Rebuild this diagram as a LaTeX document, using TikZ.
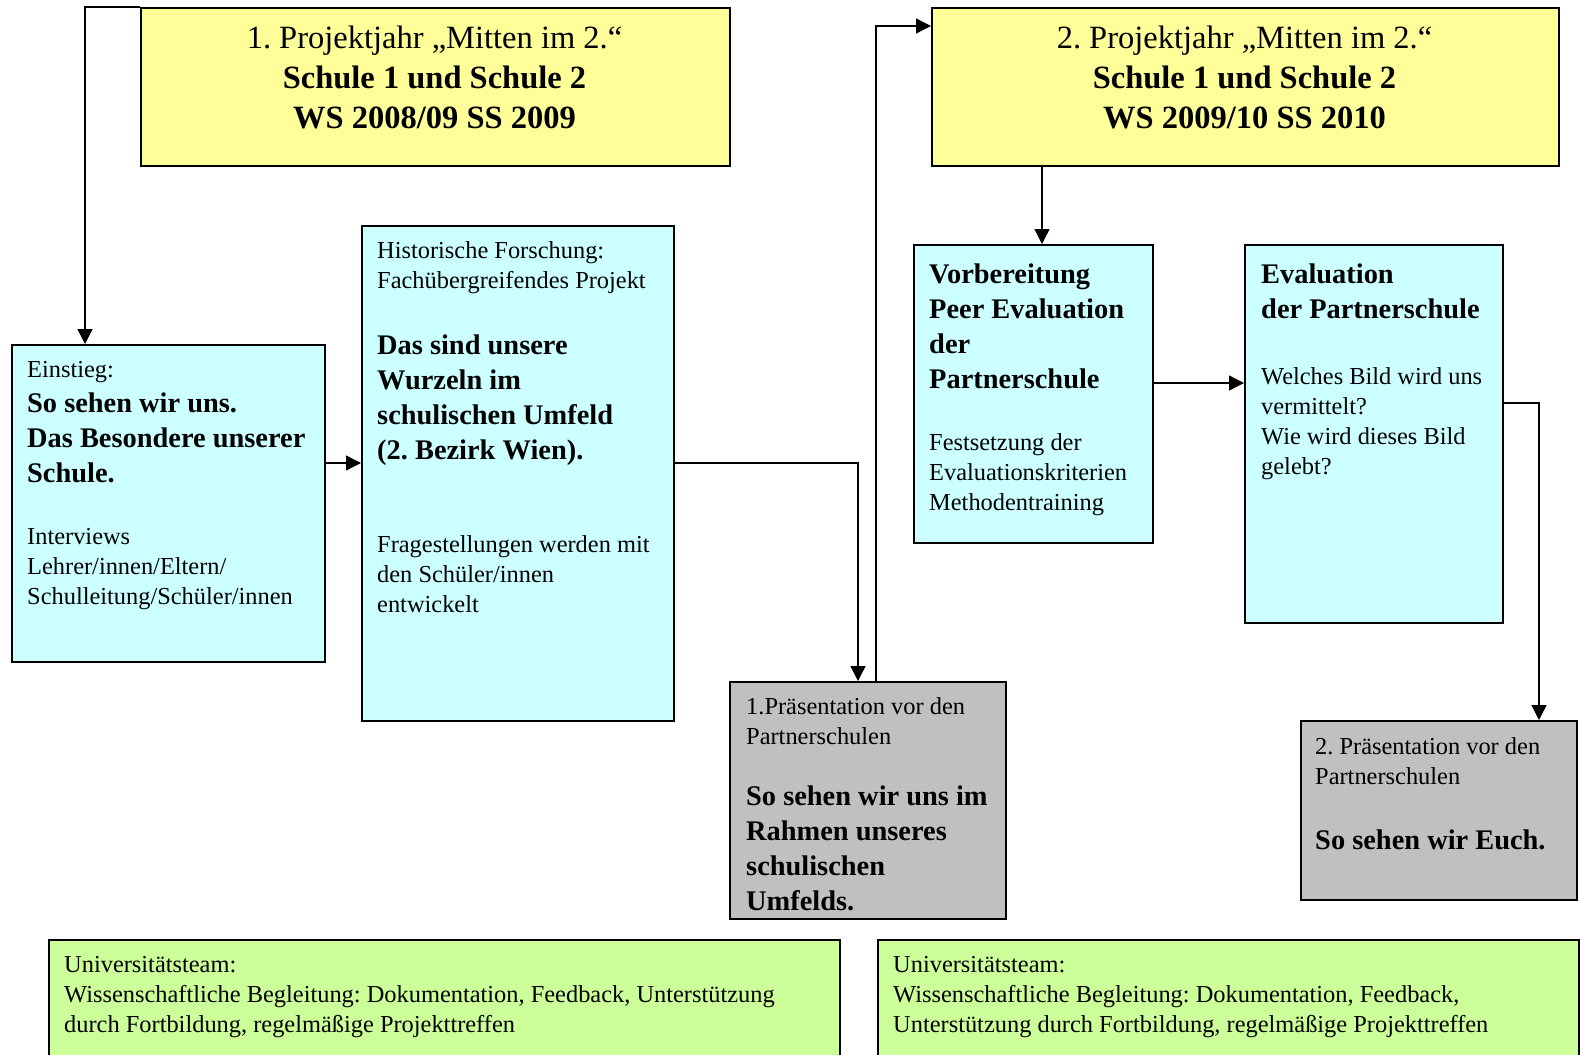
\documentclass[tikz,border=0pt]{standalone}
\usepackage{fontspec}
\setmainfont{Liberation Serif}
\usetikzlibrary{arrows.meta}
\setlength{\parindent}{0pt}
\definecolor{ylw}{HTML}{FFFF99}
\definecolor{cyn}{HTML}{CCFFFF}
\definecolor{gry}{HTML}{C0C0C0}
\definecolor{grn}{HTML}{CCFF99}
\newcommand\SPC{\spaceskip=0.25em\relax\xspaceskip=0.25em\relax}
\newcommand\TN[1]{{\fontsize{32.5}{40}\selectfont\SPC #1\par}}
\newcommand\TB[1]{{\fontsize{32.5}{40}\selectfont\bfseries\SPC #1\par}}
\newcommand\NL[1]{{\fontsize{24.4}{30}\selectfont\SPC #1\par}}
\newcommand\BL[1]{{\fontsize{28.4}{35}\selectfont\bfseries\SPC #1\par}}
\newcommand\GP[1]{\vspace*{#1pt}}
\newcommand\FR[1]{\rule{0pt}{#1pt}}
\begin{document}
\begin{tikzpicture}[x=1pt,y=-1pt,
  box/.style={draw=black, line width=1.6pt, inner sep=0pt, anchor=north west},
  txt/.style={inner sep=0pt, anchor=north west, text width=950pt, align=left},
  ttl/.style={inner sep=0pt, anchor=north, text width=600pt, align=center},
  conn/.style={line width=1.3pt, -{Triangle[length=15pt,width=15pt]}}]
\path[use as bounding box] (0,0) rectangle (1580,1055);
\clip (0,0) rectangle (1580,1055);
\fill[white] (0,0) rectangle (1580,1055);

% boxes
\node[box, fill=ylw, minimum width=589pt, minimum height=158pt] (y1) at (140,7) {};
\node[box, fill=ylw, minimum width=627pt, minimum height=158pt] (y2) at (931,7) {};
\node[box, fill=cyn, minimum width=313pt, minimum height=317pt] (ein) at (11,344) {};
\node[box, fill=cyn, minimum width=312pt, minimum height=495pt] (hist) at (361,225) {};
\node[box, fill=gry, minimum width=276pt, minimum height=237pt] (g1) at (729,681) {};
\node[box, fill=cyn, minimum width=239pt, minimum height=298pt] (vor) at (913,244) {};
\node[box, fill=cyn, minimum width=258pt, minimum height=378pt] (eval) at (1244,244) {};
\node[box, fill=gry, minimum width=276pt, minimum height=179pt] (g2) at (1300,720) {};
\node[box, fill=grn, minimum width=791pt, minimum height=140pt] (gr1) at (48,939) {};
\node[box, fill=grn, minimum width=701pt, minimum height=140pt] (gr2) at (877,939) {};

% texts
\node[ttl] (y1t) at (434.5,18) {\TN{\FR{30}1. Projektjahr „Mitten im 2.“}\TB{Schule 1 und Schule 2}\TB{WS 2008/09 SS 2009}};
\node[ttl] (y2t) at (1244.5,18) {\TN{\FR{30}2. Projektjahr „Mitten im 2.“}\TB{Schule 1 und Schule 2}\TB{WS 2009/10 SS 2010}};

\node[txt] (eint) at (27,352) {\NL{\FR{25}Einstieg:}\BL{So sehen wir uns.}\BL{Das Besondere unserer}\BL{Schule.}\GP{32}\NL{Interviews}\NL{Lehrer/innen/Eltern/}\NL{Schulleitung/Schüler/innen}};

\node[txt] (histt) at (377,233) {\NL{\FR{25}Historische Forschung:}\NL{Fachübergreifendes Projekt}\GP{31}\BL{Das sind unsere}\BL{Wurzeln im}\BL{schulischen Umfeld}\BL{(2. Bezirk Wien).}\GP{63}\NL{Fragestellungen werden mit}\NL{den Schüler/innen}\NL{entwickelt}};

\node[txt] (g1t) at (746,689) {\NL{\FR{25}1.Präsentation vor den}\NL{Partnerschulen}\GP{26}\BL{So sehen wir uns im}\BL{Rahmen unseres}\BL{schulischen}\BL{Umfelds.}};

\node[txt] (vort) at (929,255) {\BL{\FR{28}Vorbereitung}\BL{Peer Evaluation}\BL{der}\BL{Partnerschule}\GP{32}\NL{Festsetzung der}\NL{Evaluationskriterien}\NL{Methodentraining}};

\node[txt] (evalt) at (1261,255) {\BL{\FR{28}Evaluation}\BL{der Partnerschule}\GP{36}\NL{Welches Bild wird uns}\NL{vermittelt?}\NL{Wie wird dieses Bild}\NL{gelebt?}};

\node[txt] (g2t) at (1315,729) {\NL{\FR{25}2. Präsentation vor den}\NL{Partnerschulen}\GP{30}\BL{So sehen wir Euch.}};

\node[txt] (gr1t) at (64,947) {\NL{\FR{25}Universitätsteam:}\NL{Wissenschaftliche Begleitung: Dokumentation, Feedback, Unterstützung}\NL{durch Fortbildung, regelmäßige Projekttreffen}};
\node[txt] (gr2t) at (893,947) {\NL{\FR{25}Universitätsteam:}\NL{Wissenschaftliche Begleitung: Dokumentation, Feedback,}\NL{Unterstützung durch Fortbildung, regelmäßige Projekttreffen}};

% connectors
\coordinate (k1) at (85,7);
\draw[conn] (y1.north west) -- (k1) -- (k1 |- ein.north);
\coordinate (k2) at (0,463);
\draw[conn] (ein.east |- k2) -- (hist.west |- k2);
\coordinate (k3) at (858,463);
\draw[conn] (hist.east |- k3) -- (k3) -- (k3 |- g1.north);
\coordinate (k4) at (876,26);
\draw[conn] (g1.north -| k4) -- (k4) -- (y2.west |- k4);
\coordinate (k5) at (1042,0);
\draw[conn] (y2.south -| k5) -- (vor.north -| k5);
\coordinate (k6) at (0,383);
\draw[conn] (vor.east |- k6) -- (eval.west |- k6);
\coordinate (k7) at (1539,403);
\draw[conn] (eval.east |- k7) -- (k7) -- (k7 |- g2.north);
\end{tikzpicture}
\end{document}
